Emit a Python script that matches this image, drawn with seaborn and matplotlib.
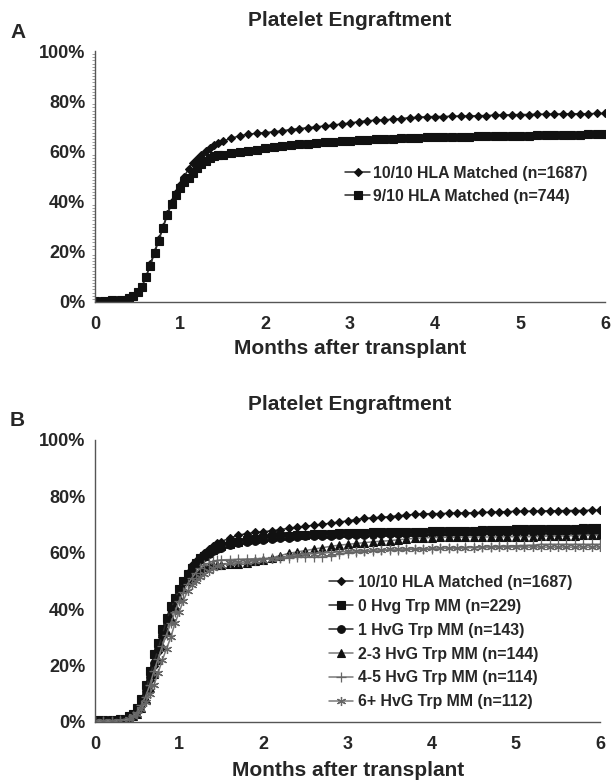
import matplotlib
matplotlib.use("Agg")
import matplotlib.pyplot as plt
from matplotlib.ticker import FuncFormatter, MultipleLocator
import seaborn as sns
import pandas as pd

# ---------------- data ----------------
months = [0, 0.1, 0.2, 0.3, 0.4,
          0.45, 0.5, 0.55, 0.6, 0.65, 0.7, 0.75, 0.8, 0.85, 0.9, 0.95, 1.0, 1.05, 1.1,
          1.15, 1.2, 1.25, 1.3, 1.35, 1.4, 1.45, 1.5,
          1.6, 1.7, 1.8, 1.9, 2.0, 2.1, 2.2, 2.3, 2.4, 2.5,
          2.6, 2.7, 2.8, 2.9, 3.0, 3.1, 3.2, 3.3, 3.4, 3.5,
          3.6, 3.7, 3.8, 3.9, 4.0, 4.1, 4.2, 4.3, 4.4, 4.5,
          4.6, 4.7, 4.8, 4.9, 5.0, 5.1, 5.2, 5.3, 5.4, 5.5,
          5.6, 5.7, 5.8, 5.9, 6.0]

hla_10 = [0.5, 0.5, 0.6, 0.8, 1.5,
          2.5, 4, 6, 10, 15, 20, 25, 30, 35, 40, 43.5, 46.5, 50, 53, 55.5, 57, 58.5, 60, 61.3, 62.5, 63.3, 64,
          65.2, 66.2, 66.8, 67.2, 67.5, 67.8, 68.2, 68.7, 69.1, 69.4,
          69.8, 70.1, 70.5, 70.9, 71.3, 71.8, 72.2, 72.4, 72.6, 72.8,
          73.1, 73.4, 73.6, 73.8, 73.9, 73.9, 74.0, 74.1, 74.1, 74.2,
          74.3, 74.4, 74.5, 74.6, 74.7, 74.7, 74.8, 74.8, 74.9, 74.9,
          75.0, 75.0, 75.0, 75.1, 75.1]

hla_9 = [0.5, 0.5, 0.6, 0.8, 1.5,
         2.5, 4, 6, 10, 14.5, 19.5, 24.5, 29.5, 34.5, 39, 42.5, 45.5, 48, 49.5, 51.5, 53.3, 54.8, 56, 57.2, 58, 58.4, 58.7,
         59.3, 59.7, 60.2, 60.7, 61.2, 61.6, 62.0, 62.5, 62.8, 63.0,
         63.3, 63.6, 63.9, 64.1, 64.3, 64.5, 64.7, 64.8, 64.9, 65.0,
         65.2, 65.3, 65.5, 65.6, 65.7, 65.8, 65.8, 65.9, 65.9, 66.0,
         66.0, 66.1, 66.1, 66.2, 66.3, 66.3, 66.4, 66.4, 66.5, 66.5,
         66.6, 66.6, 66.8, 66.9, 66.9]

hvg_0 = [0.8, 0.8, 0.8, 1.0, 2.0,
         3, 5, 8, 13, 18, 24, 28, 33, 37, 41, 44, 47, 50, 52.5, 54.5, 56.5, 58, 59, 60, 61, 61.7, 62.3,
         63.2, 63.9, 64.4, 64.8, 65.2, 65.5, 65.8, 66.0, 66.2, 66.4,
         66.6, 66.7, 66.8, 66.9, 67.0, 67.1, 67.1, 67.2, 67.3, 67.3,
         67.4, 67.4, 67.5, 67.5, 67.6, 67.7, 67.7, 67.8, 67.8, 67.9,
         68.0, 68.0, 68.1, 68.2, 68.3, 68.3, 68.4, 68.4, 68.5, 68.5,
         68.6, 68.6, 68.7, 68.8, 68.8]

hvg_1 = [0.5, 0.5, 0.5, 0.8, 1.5,
         2.5, 4, 7, 11, 16, 21, 26, 31, 36, 40, 43.5, 47, 50, 52.5, 54.5, 56, 57.5, 58.5, 59.5, 60.5, 61.2, 61.8,
         62.7, 63.4, 63.9, 64.3, 64.7, 65.0, 65.2, 65.4, 65.6, 65.8,
         65.9, 66.0, 66.1, 66.2, 66.3, 66.3, 66.4, 66.4, 66.5, 66.5,
         66.6, 66.6, 66.7, 66.7, 66.8, 66.8, 66.8, 66.9, 66.9, 66.9,
         67.0, 67.0, 67.0, 67.0, 67.0, 67.1, 67.1, 67.1, 67.1, 67.1,
         67.1, 67.1, 67.1, 67.1, 67.1]

hvg_23 = [0.3, 0.3, 0.3, 0.5, 1.0,
          2, 3, 5, 8, 12, 17, 22, 27, 32, 37, 41, 44.5, 47.5, 50, 51.5, 53, 54, 54.8, 55.2, 55.5, 55.7, 55.8,
          56.0, 56.2, 56.5, 57.0, 57.5, 58.2, 59.0, 59.8, 60.3, 60.8,
          61.3, 61.8, 62.3, 62.7, 63.0, 63.3, 63.6, 63.9, 64.1, 64.3,
          64.6, 64.9, 65.1, 65.3, 65.4, 65.5, 65.5, 65.5, 65.6, 65.6,
          65.6, 65.6, 65.6, 65.7, 65.7, 65.7, 65.7, 65.8, 65.9, 66.0,
          66.0, 66.1, 66.2, 66.2, 66.3]

hvg_45 = [0.5, 0.5, 0.5, 0.7, 1.2,
          2, 3.5, 6, 9, 13, 18, 22.5, 27, 31, 35, 39, 43, 46, 49, 51, 53, 54.5, 55.5, 56.3, 57, 57.3, 57.5,
          57.6, 57.7, 57.8, 57.9, 58.0, 58.1, 58.2, 58.3, 58.4, 58.5,
          58.5, 58.5, 59.0, 59.5, 60.0, 60.3, 60.6, 60.8, 60.9, 61.0,
          61.1, 61.2, 61.3, 61.4, 61.5, 61.6, 61.7, 61.8, 61.9, 62.0,
          62.1, 62.2, 62.3, 62.4, 62.5, 62.6, 62.7, 63.0, 63.0, 63.0,
          63.0, 63.0, 63.0, 63.0, 63.0]

hvg_6 = [0.3, 0.3, 0.3, 0.5, 1.0,
         2, 3, 4.5, 7, 10, 13, 17.5, 22, 26, 30, 35, 39, 43, 46.5, 48.5, 50, 51.5, 52.5, 53.5, 54.5, 55.2, 55.8,
         56.4, 56.6, 56.8, 57.1, 57.5, 57.9, 58.3, 58.7, 59.1, 59.5,
         59.7, 59.9, 60.1, 60.3, 60.5, 60.7, 60.8, 60.9, 61.0, 61.2,
         61.3, 61.4, 61.5, 61.5, 61.6, 61.6, 61.7, 61.7, 61.8, 61.8,
         61.9, 61.9, 62.0, 62.0, 62.0, 62.0, 62.0, 62.0, 62.0, 62.0,
         62.0, 62.0, 62.0, 62.0, 62.0]

labels_a = ["10/10 HLA Matched (n=1687)", "9/10 HLA Matched (n=744)"]
labels_b = ["10/10 HLA Matched (n=1687)", "0 Hvg Trp MM (n=229)", "1 HvG Trp MM (n=143)",
            "2-3 HvG Trp MM (n=144)", "4-5 HvG Trp MM (n=114)", "6+ HvG Trp MM (n=112)"]
x_ticks = [0, 1, 2, 3, 4, 5, 6]
y_ticks = [0, 20, 40, 60, 80, 100]
title = "Platelet Engraftment"
xlabel = "Months after transplant"

# ---------------- style ----------------
sns.set_style("white")
plt.rcParams['font.family'] = ['Liberation Sans', 'DejaVu Sans']
plt.rcParams['font.weight'] = 'bold'

W, H = 611, 781
fig = plt.figure(figsize=(W / 100, H / 100), dpi=100)

def fx(px):
    return px / W

def fy(py):
    return 1 - py / H

axA = fig.add_axes([fx(95), fy(302), fx(605) - fx(95), fy(51) - fy(302)])
axB = fig.add_axes([fx(95), fy(722), fx(600) - fx(95), fy(440) - fy(722)])

styles_b = [
    dict(marker='D', markersize=4.5, color='#2a2a2a', mfc='#111', mec='#111'),
    dict(marker='s', markersize=5.5, color='#2a2a2a', mfc='#111', mec='#111'),
    dict(marker='o', markersize=5.5, color='#2a2a2a', mfc='#111', mec='#111'),
    dict(marker='^', markersize=5.5, color='#7a7a7a', mfc='#111', mec='#111'),
    dict(marker='+', markersize=6.5, color='#7a7a7a', mfc='#666', mec='#666', mew=0.9),
    dict(marker=(6, 2, 0), markersize=6.5, color='#7a7a7a', mfc='#666', mec='#666', mew=0.9),
]

def draw(ax, series, labels, styles):
    for vals, lab, st in zip(series, labels, styles):
        df = pd.DataFrame({"month": months, "pct": vals})
        st = dict(st)
        mfc = st.pop('mfc'); mec = st.pop('mec'); mew = st.pop('mew', 0.8)
        sns.lineplot(data=df, x="month", y="pct", ax=ax, label=lab, estimator=None,
                     sort=False, linewidth=1.1, markerfacecolor=mfc,
                     markeredgecolor=mec, markeredgewidth=mew, **st)

draw(axA, [hla_10, hla_9], labels_a, [styles_b[0], styles_b[1]])
draw(axB, [hla_10, hvg_0, hvg_1, hvg_23, hvg_45, hvg_6], labels_b, styles_b)

for ax in (axA, axB):
    ax.set_xlim(0, 6)
    ax.set_ylim(0, 100)
    ax.set_xticks(x_ticks)
    ax.set_yticks(y_ticks)
    ax.yaxis.set_major_formatter(FuncFormatter(lambda v, p: f"{v:.0f}%"))
    ax.set_xlabel("")
    ax.set_ylabel("")
    for s in ('top', 'right'):
        ax.spines[s].set_visible(False)
    for s in ('left', 'bottom'):
        ax.spines[s].set_color('#555555')
        ax.spines[s].set_linewidth(1.0)
    ax.tick_params(axis='both', which='major', direction='out', length=4, width=0.9,
                   color='#555555', labelsize=13, pad=3)
    ax.tick_params(axis='x', pad=6)
    for t in ax.get_xticklabels() + ax.get_yticklabels():
        t.set_fontweight('bold')

axA.yaxis.set_minor_locator(MultipleLocator(1.25))
axA.tick_params(axis='y', which='minor', direction='out', length=2, width=0.5, color='#777777', left=True)

legA = axA.legend(loc='upper left', bbox_to_anchor=(fx(345), fy(166)), bbox_transform=fig.transFigure,
                  frameon=False, fontsize=11.4, handlelength=1.6, handletextpad=0.15,
                  labelspacing=0.5, borderpad=0, borderaxespad=0)
legB = axB.legend(loc='upper left', bbox_to_anchor=(fx(329), fy(575)), bbox_transform=fig.transFigure,
                  frameon=False, fontsize=11.4, handlelength=1.5, handletextpad=0.3,
                  labelspacing=0.56, borderpad=0, borderaxespad=0)
for leg in (legA, legB):
    for t in leg.get_texts():
        t.set_fontweight('bold')

# titles, axis labels, panel letters
fig.text(fx(350), fy(21), title, ha='center', va='center', fontsize=15, fontweight='bold')
fig.text(fx(350), fy(405), title, ha='center', va='center', fontsize=15, fontweight='bold')
fig.text(fx(350), fy(349), xlabel, ha='center', va='center', fontsize=15, fontweight='bold')
fig.text(fx(348), fy(770), xlabel, ha='center', va='center', fontsize=15, fontweight='bold')
fig.text(fx(10), fy(33), "A", ha='left', va='center', fontsize=15, fontweight='bold')
fig.text(fx(10), fy(420), "B", ha='left', va='center', fontsize=15, fontweight='bold')

fig.savefig("out.png", dpi=100)
